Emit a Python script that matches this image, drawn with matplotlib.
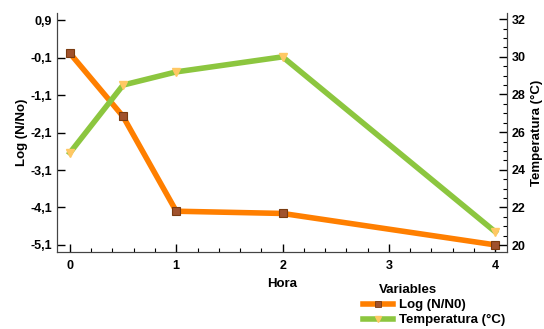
import matplotlib
matplotlib.use("Agg")
import matplotlib.pyplot as plt
from matplotlib.ticker import MultipleLocator, FixedLocator
from matplotlib.lines import Line2D

plt.rcParams['font.family'] = ['Liberation Sans', 'DejaVu Sans']
plt.rcParams['font.weight'] = 'bold'

hours = [0, 0.5, 1, 2, 4]
log_n = [0.02, -1.67, -4.2, -4.26, -5.1]
temp = [24.9, 28.5, 29.2, 30.0, 20.7]
left_ticks = [0.9, -0.1, -1.1, -2.1, -3.1, -4.1, -5.1]
right_ticks = [20, 22, 24, 26, 28, 30, 32]
x_ticks = [0, 1, 2, 3, 4]

orange = '#FF7F00'
green = '#8CC63F'

fig = plt.figure(figsize=(5.44, 3.29), dpi=100)
ax = fig.add_axes([0.105, 0.234, 0.827, 0.726])
ax2 = ax.twinx()

ax.plot(hours, log_n, color=orange, lw=4, marker='s', ms=6,
        mfc='#A0522D', mec='#7A3B10', mew=0.8, zorder=3)
ax2.plot(hours, temp, color=green, lw=4, marker='v', ms=6,
         mfc='#FFC864', mec='#FFC864', zorder=3)

ax.set_xlim(-0.12, 4.11)
ax.set_ylim(-5.29, 1.09)
ax2.set_ylim(19.63, 32.32)

ax.xaxis.set_major_locator(FixedLocator(x_ticks))
ax.xaxis.set_minor_locator(MultipleLocator(0.2))
ax.yaxis.set_major_locator(FixedLocator(left_ticks))
ax.set_yticklabels([f"{v:.1f}".replace('.', ',') for v in left_ticks])
ax2.yaxis.set_major_locator(FixedLocator(right_ticks))
ax2.yaxis.set_minor_locator(MultipleLocator(0.5))

for a in (ax, ax2):
    a.tick_params(direction='in', which='major', length=6, labelsize=9, width=1)
    a.tick_params(direction='in', which='minor', length=3, width=0.8)
    for s in a.spines.values():
        s.set_color('#444444')
ax.spines['top'].set_visible(False)
ax2.spines['top'].set_visible(False)
ax.tick_params(axis='x', pad=6)

ax.set_xlabel('Hora', fontsize=9.5, fontweight='bold')
ax.set_ylabel('Log (N/No)', fontsize=9.5, fontweight='bold', labelpad=2)
ax2.set_ylabel('Temperatura (°C)', fontsize=9.5, fontweight='bold', labelpad=4)

handles = [
    Line2D([], [], color=orange, lw=4, marker='s', ms=4, mfc='#A0522D', mec='#7A3B10', mew=0.6),
    Line2D([], [], color=green, lw=4, marker='v', ms=4, mfc='#FFC864', mec='#FFC864'),
]
fig.text(379 / 544, 1 - 290 / 329, 'Variables', fontsize=9.5, fontweight='bold',
         ha='left', va='center')
leg = fig.legend(handles, ['Log (N/N0)', 'Temperatura (°C)'],
                 loc='lower left', bbox_to_anchor=(0.65, -0.02), frameon=False,
                 fontsize=9.5, handlelength=2.3,
                 labelspacing=0.2, borderpad=0.2, handletextpad=0.45)

fig.savefig('out.png', dpi=100)
